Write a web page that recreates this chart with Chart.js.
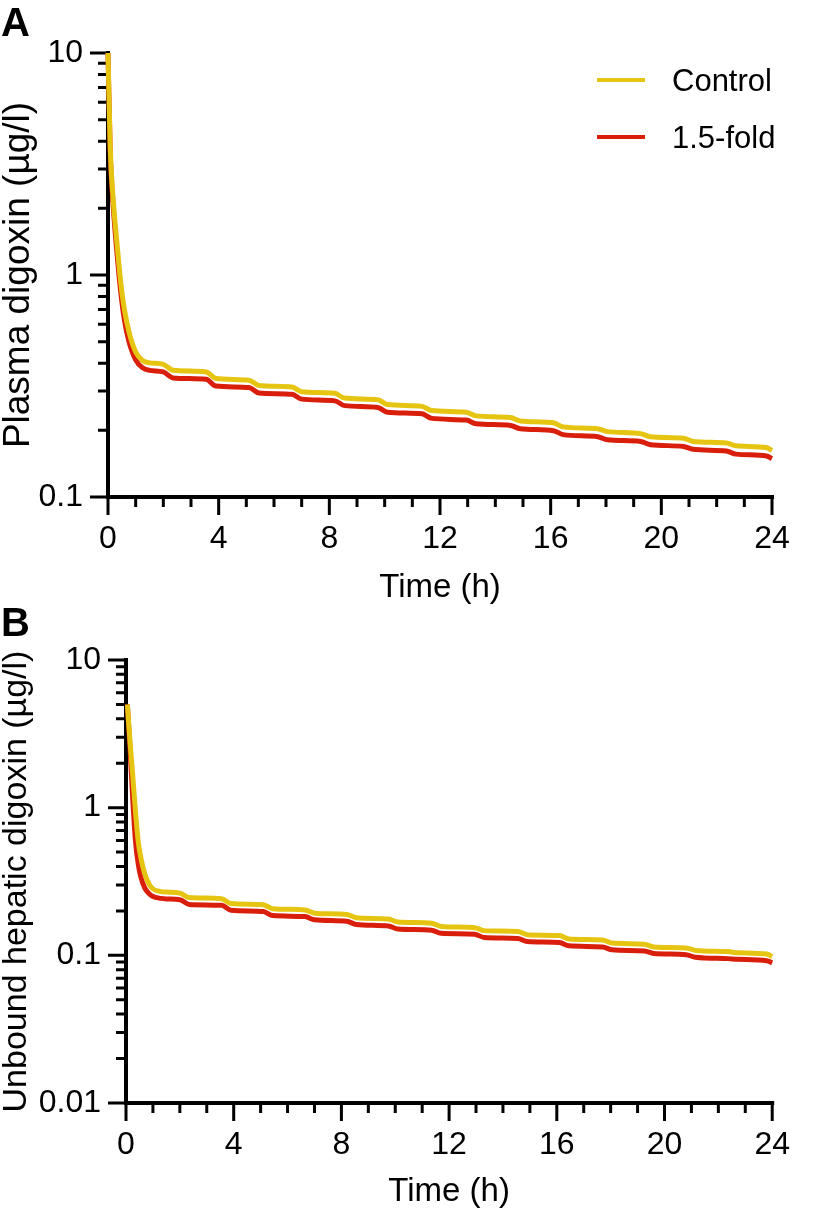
<!DOCTYPE html>
<html>
<head>
<meta charset="utf-8">
<script src="https://cdn.jsdelivr.net/npm/chart.js@4.4.0/dist/chart.umd.min.js"></script>
<style>
  html, body { margin: 0; padding: 0; background: #fff; }
  body { width: 813px; height: 1211px; position: relative; overflow: hidden;
         font-family: "Liberation Sans", Arial, Helvetica, sans-serif; color: #000; }
  .panel { position: absolute; left: 0; width: 813px; }
  #wrapA { top: 0; height: 610px; }
  #wrapB { top: 610px; height: 601px; }
  .tag { position: absolute; left: 1px; font-weight: bold; font-size: 40px; line-height: 1; }
  .key { position: absolute; left: 597px; width: 48px; height: 4px; }
  .keytext { position: absolute; left: 672px; font-size: 31px; line-height: 1; }
</style>
</head>
<body>
<div class="panel" id="wrapA"><canvas id="chartA" width="813" height="610"></canvas></div>
<div class="panel" id="wrapB"><canvas id="chartB" width="813" height="601"></canvas></div>
<div class="tag" style="top:2px">A</div>
<div class="tag" style="top:602px">B</div>
<div class="key" id="key0" style="top:78px"></div>
<div class="keytext" id="keyText0" style="top:65px"></div>
<div class="key" id="key1" style="top:135px"></div>
<div class="keytext" id="keyText1" style="top:122px"></div>
<script>
// time (h) and concentrations (µg/l)
const timeA = [0, 0.08, 0.2, 0.3, 0.4, 0.5, 0.6, 0.75, 1.0, 1.25, 1.5, 2.0,
  2.35, 3.55, 3.9, 5.1, 5.45, 6.65, 7.0, 8.2, 8.55, 9.75, 10.1, 11.35, 11.7, 12.95,
  13.3, 14.55, 14.9, 16.1, 16.45, 17.7, 18.05, 19.25, 19.6, 20.8, 21.15, 22.35, 22.7, 23.8, 24];
const controlA = [10, 3.8, 2.1, 1.5, 1.1, 0.84, 0.69, 0.56, 0.45, 0.412, 0.402, 0.396,
  0.372, 0.366, 0.342, 0.336, 0.318, 0.313, 0.298, 0.293, 0.279, 0.274, 0.261, 0.256, 0.245, 0.241,
  0.232, 0.228, 0.220, 0.216, 0.207, 0.203, 0.197, 0.193, 0.187, 0.184, 0.178, 0.175, 0.170, 0.167, 0.162];
const foldA = [10, 3.6, 1.95, 1.36, 0.99, 0.76, 0.62, 0.505, 0.415, 0.382, 0.372, 0.366,
  0.344, 0.339, 0.316, 0.311, 0.294, 0.290, 0.276, 0.271, 0.258, 0.253, 0.241, 0.237, 0.226, 0.222,
  0.214, 0.210, 0.203, 0.199, 0.191, 0.187, 0.181, 0.178, 0.172, 0.169, 0.164, 0.161, 0.156, 0.153, 0.149];

const timeB = [0.05, 0.15, 0.25, 0.35, 0.45, 0.55, 0.7, 0.85, 1.0, 1.3, 1.5, 2.0,
  2.35, 3.55, 3.9, 5.1, 5.45, 6.65, 7.0, 8.2, 8.55, 9.75, 10.1, 11.35, 11.7, 12.95,
  13.3, 14.55, 14.9, 16.1, 16.45, 17.7, 18.05, 19.25, 19.6, 20.8, 21.15, 22.35, 22.7, 23.8, 24];
const controlB = [5.0, 2.8, 1.65, 0.95, 0.6, 0.46, 0.355, 0.305, 0.282, 0.27, 0.268, 0.264,
  0.246, 0.242, 0.224, 0.220, 0.207, 0.203, 0.193, 0.189, 0.180, 0.176, 0.168, 0.165, 0.157, 0.154,
  0.147, 0.145, 0.138, 0.136, 0.129, 0.127, 0.121, 0.119, 0.114, 0.112, 0.108, 0.106, 0.104, 0.102, 0.098];
const foldB = [5.0, 2.5, 1.15, 0.6, 0.42, 0.34, 0.285, 0.262, 0.25, 0.243, 0.241, 0.238,
  0.221, 0.218, 0.202, 0.198, 0.186, 0.183, 0.174, 0.170, 0.162, 0.158, 0.151, 0.148, 0.141, 0.139,
  0.132, 0.130, 0.124, 0.122, 0.116, 0.114, 0.109, 0.107, 0.103, 0.101, 0.097, 0.095, 0.094, 0.092, 0.089];

const xTicks = [0, 4, 8, 12, 16, 20, 24];
const yTicksA = [0.1, 1, 10];
const yTicksB = [0.01, 0.1, 1, 10];
const seriesNames = ['Control', '1.5-fold'];
const seriesColors = ['#E6C512', '#D91E0B'];

const FONT = '"Liberation Sans", Arial, Helvetica, sans-serif';

// black axis lines with long major / short minor ticks, like the original
const axesPlugin = {
  id: 'axes',
  beforeDatasetsDraw(chart, args, opts) {
    const {ctx, chartArea: a, scales: {x, y}} = chart;
    ctx.save();
    ctx.strokeStyle = '#000';
    ctx.lineWidth = 4;
    ctx.beginPath();
    ctx.moveTo(a.left, a.top - 2);
    ctx.lineTo(a.left, a.bottom + 2);
    ctx.moveTo(a.left - 2, a.bottom);
    ctx.lineTo(a.right + 2, a.bottom);
    ctx.stroke();

    ctx.lineWidth = 3;
    ctx.beginPath();
    for (let h = 0; h <= 24; h++) {
      const px = x.getPixelForValue(h);
      const len = xTicks.includes(h) ? 18 : 10;
      ctx.moveTo(px, a.bottom);
      ctx.lineTo(px, a.bottom + len);
    }
    const dec = opts.decades;
    for (let i = 0; i < dec.length; i++) {
      const py = y.getPixelForValue(dec[i]);
      ctx.moveTo(a.left - 18, py);
      ctx.lineTo(a.left, py);
      if (i < dec.length - 1) {
        for (let m = 2; m <= 9; m++) {
          const pm = y.getPixelForValue(dec[i] * m);
          ctx.moveTo(a.left - 10, pm);
          ctx.lineTo(a.left, pm);
        }
      }
    }
    ctx.stroke();
    ctx.restore();
  }
};

function toPoints(t, v) {
  return t.map((tt, i) => ({x: tt, y: v[i]}));
}

function makeChart(id, cfg) {
  const tickFont = {family: FONT, size: 32};
  const xTitleFont = {family: FONT, size: 33, lineHeight: 1};
  const yTitleFont = {family: FONT, size: cfg.yTitleSize, lineHeight: 1};
  return new Chart(document.getElementById(id), {
    type: 'line',
    data: {
      datasets: [
        {label: seriesNames[0], data: toPoints(cfg.time, cfg.control), borderColor: seriesColors[0]},
        {label: seriesNames[1], data: toPoints(cfg.time, cfg.fold), borderColor: seriesColors[1]}
      ]
    },
    options: {
      responsive: false,
      animation: false,
      devicePixelRatio: 1,
      layout: {padding: {top: cfg.padTop, right: cfg.padRight, left: 0, bottom: 0}},
      elements: {
        point: {radius: 0},
        line: {borderWidth: 5, cubicInterpolationMode: 'monotone', fill: false}
      },
      datasets: {line: {clip: 10}},
      plugins: {
        legend: {display: false},
        tooltip: {enabled: false},
        axes: {decades: cfg.yTicks}
      },
      scales: {
        x: {
          type: 'linear', min: 0, max: 24,
          afterBuildTicks: s => { s.ticks = xTicks.map(v => ({value: v})); },
          afterFit: s => { s.height = cfg.xHeight; },
          grid: {display: false, drawTicks: false},
          border: {display: false},
          ticks: {font: tickFont, color: '#000', padding: 23, maxRotation: 0, autoSkip: false},
          title: {display: true, text: 'Time (h)', font: xTitleFont, color: '#000',
                  padding: {top: 0, bottom: cfg.xTitlePad}}
        },
        y: {
          type: 'logarithmic', min: cfg.yMin, max: cfg.yMax,
          afterBuildTicks: s => { s.ticks = cfg.yTicks.map(v => ({value: v})); },
          afterFit: s => { s.width = cfg.yWidth; },
          grid: {display: false, drawTicks: false},
          border: {display: false},
          ticks: {font: tickFont, color: '#000', padding: 25, autoSkip: false,
                  callback: v => String(v)},
          title: {display: true, text: cfg.yTitle, font: yTitleFont, color: '#000',
                  padding: {top: 0, bottom: 0}}
        }
      }
    },
    plugins: [axesPlugin]
  });
}

makeChart('chartA', {
  time: timeA, control: controlA, fold: foldA,
  yMin: 0.1, yMax: 10, yTicks: yTicksA,
  yTitle: 'Plasma digoxin (µg/l)', yTitleSize: 37,
  padTop: 53, padRight: 41, xHeight: 113, yWidth: 108, xTitlePad: 6
});

makeChart('chartB', {
  time: timeB, control: controlB, fold: foldB,
  yMin: 0.01, yMax: 10, yTicks: yTicksB,
  yTitle: 'Unbound hepatic digoxin (µg/l)', yTitleSize: 34,
  padTop: 50, padRight: 21, xHeight: 108, yWidth: 126, xTitlePad: 3
});

// legend (panel A)
seriesNames.forEach((name, i) => {
  document.getElementById('key' + i).style.background = seriesColors[i];
  document.getElementById('keyText' + i).textContent = name;
});
</script>
</body>
</html>
